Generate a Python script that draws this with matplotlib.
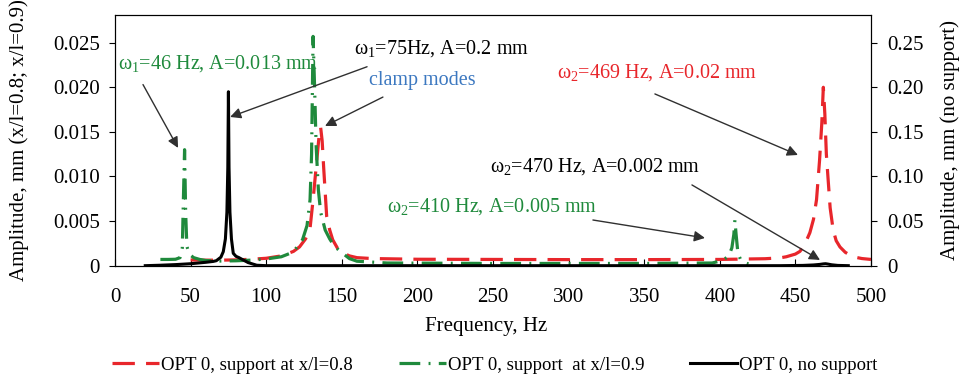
import matplotlib
matplotlib.use("Agg")
import matplotlib.pyplot as plt
from matplotlib.ticker import FuncFormatter, MultipleLocator

plt.rcParams["font.family"] = ["Liberation Serif", "DejaVu Serif"]
plt.rcParams["mathtext.fontset"] = "stix"

# Frequency response, support at x/l = 0.8 (left axis, mm)
freq_08 = [50, 60, 70, 80, 90, 100, 110, 118, 122, 126, 129, 131, 133, 135, 136,
           137, 138, 140, 142, 144, 147, 150, 155, 160, 170, 200, 250, 300, 350,
           400, 430, 440, 444, 450, 453, 456, 459.6, 462, 464, 466, 467.5, 468.5,
           469.5, 470.5, 471.7, 473, 475, 477, 479.5, 483, 488, 494, 500]
amp_08 = [0.00064, 0.00062, 0.00062, 0.00065, 0.00072, 0.00083, 0.0011, 0.0016,
          0.0021, 0.0030, 0.0042, 0.0074, 0.0110, 0.0146, 0.0155, 0.0140, 0.0110,
          0.0055, 0.0040, 0.0029, 0.0020, 0.0015, 0.0011, 0.0009, 0.0008, 0.00072,
          0.00070, 0.00068, 0.00068, 0.00070, 0.00078, 0.00088, 0.0010, 0.0013,
          0.0016, 0.0023, 0.0037, 0.0052, 0.0074, 0.0118, 0.0160, 0.0200, 0.0170,
          0.0125, 0.0096, 0.0065, 0.0040, 0.0028, 0.0021, 0.0015, 0.0010, 0.0008,
          0.0007]

# Frequency response, support at x/l = 0.9 (left axis, mm)
freq_09 = [30, 35, 40, 43, 44.5, 45.3, 46, 46.7, 47.5, 49, 52, 56, 60, 70, 80, 90,
           100, 110, 116, 120, 124, 127, 129, 130, 131, 132, 133, 134.5, 136, 139,
           142, 145, 149, 155, 160, 180, 250, 300, 350, 395, 402, 406, 408, 409.3,
           410, 410.8, 412, 414, 416, 419]
amp_09 = [0.0007, 0.0007, 0.00072, 0.0009, 0.0020, 0.0080, 0.0130, 0.0060, 0.0022,
          0.0013, 0.0009, 0.0007, 0.00058, 0.00052, 0.00055, 0.00062, 0.00075,
          0.0010, 0.0014, 0.0020, 0.0029, 0.0045, 0.0074, 0.0125, 0.0257, 0.0200,
          0.0135, 0.0085, 0.0060, 0.0040, 0.0030, 0.0022, 0.0016, 0.0008, 0.0005,
          0.0003, 0.00025, 0.00025, 0.00025, 0.0003, 0.0006, 0.0011, 0.0020, 0.0035,
          0.0051, 0.0035, 0.0014, 0.0006, 0.00035, 0.0002]

# Frequency response without support (right axis, mm)
freq_free = [20, 30, 40, 50, 55, 60, 65, 67, 70, 71.6, 73, 74, 74.6, 75, 75.4, 76,
             77, 78.2, 80, 82, 84.8, 88, 93.7, 100, 150, 250, 350, 440, 455, 462,
             466, 468.5, 470, 471.5, 474, 478, 485]
amp_free = [0.0, 0.0005, 0.0012, 0.0022, 0.003, 0.0038, 0.0048, 0.0056, 0.0095,
            0.0157, 0.03, 0.06, 0.11, 0.195, 0.11, 0.06, 0.03, 0.0139, 0.0105,
            0.009, 0.0064, 0.0035, 0.0005, 0.0, 0.0, 0.0, 0.0, 0.0, 0.0003, 0.0008,
            0.0014, 0.002, 0.0022, 0.0018, 0.001, 0.0003, 0.0]

labels = ["OPT 0, support at x/l=0.8", "OPT 0, support  at x/l=0.9",
          "OPT 0, no support"]
xticks = [0, 50, 100, 150, 200, 250, 300, 350, 400, 450, 500]

RED = "#e8262b"
GREEN = "#1f8a3c"
BLUE = "#3c78c0"

fig = plt.figure(figsize=(9.61, 3.76), dpi=100)
ax = fig.add_axes([0.1197, 0.2934, 0.7866, 0.6667])
ax2 = ax.twinx()

l1, = ax.plot(freq_08, amp_08, color=RED, lw=2.3, dashes=(7, 3.5), label=labels[0])
l2, = ax.plot(freq_09, amp_09, color=GREEN, lw=2.3, dashes=(6.5, 2.6, 0.6, 2.6),
              label=labels[1])
l3, = ax2.plot(freq_free, amp_free, color="black", lw=2.2, label=labels[2])

ax.set_xlim(0, 500)
ax.set_ylim(0, 0.0281)
ax2.set_ylim(0, 0.281)
ax.set_xticks(xticks)
ax.yaxis.set_major_locator(MultipleLocator(0.005))
ax2.yaxis.set_major_locator(MultipleLocator(0.05))
ax.yaxis.set_major_formatter(FuncFormatter(lambda v, p: "0" if abs(v) < 1e-12 else f"{v:.3f}"))
ax2.yaxis.set_major_formatter(FuncFormatter(lambda v, p: "0" if abs(v) < 1e-12 else f"{v:.2f}"))

ax.tick_params(axis="x", direction="in", length=5, pad=16, labelsize=15)
ax.tick_params(axis="y", direction="out", length=4, pad=7, labelsize=15)
ax2.tick_params(axis="y", direction="out", length=4, pad=8, labelsize=15)

ax.set_xlabel("Frequency, Hz", fontsize=15)
ax.xaxis.set_label_coords(0.4907, -0.205)
ax.set_ylabel("Amplitude, mm (x/l=0.8; x/l=0.9)", fontsize=15)
ax.yaxis.set_label_coords(-0.114, 0.5)
ax2.set_ylabel("Amplitude, mm (no support)", fontsize=15, rotation=90)
ax2.yaxis.set_label_coords(1.0915, 0.5)

arrow = dict(arrowstyle="-|>", color="#303030", lw=1.0, mutation_scale=16,
             shrinkA=0, shrinkB=0)
tfs = 14.5

ax.annotate("", xy=(41.7, 0.0132), xytext=(18.5, 0.0203), arrowprops=arrow)
ax.text(2.0, 0.0227, r"$\mathregular{\omega_1}$=46 Hz, A=0.013 mm", color=GREEN,
        fontsize=tfs, ha="left", va="center")

ax.annotate("", xy=(76.1, 0.01667), xytext=(166.7, 0.0223), arrowprops=arrow)
ax.text(158.1, 0.0243, r"$\mathregular{\omega_1}$=75Hz, A=0.2 mm", color="black",
        fontsize=tfs, ha="left", va="center")

ax.annotate("", xy=(138.9, 0.01566), xytext=(177.2, 0.0189), arrowprops=arrow)
ax.text(168, 0.0208, "clamp modes", color=BLUE, fontsize=tfs, ha="left", va="center")

ax.annotate("", xy=(451.7, 0.01241), xytext=(357.1, 0.01925), arrowprops=arrow)
ax.text(292.3, 0.0217, r"$\mathregular{\omega_2}$=469 Hz, A=0.02 mm", color=RED,
        fontsize=tfs, ha="left", va="center")

ax.annotate("", xy=(466.3, 0.00064), xytext=(381.6, 0.00905), arrowprops=arrow)
ax.text(248, 0.01106, r"$\mathregular{\omega_2}$=470 Hz, A=0.002 mm", color="black",
        fontsize=tfs, ha="left", va="center")

ax.annotate("", xy=(390.2, 0.00311), xytext=(316.1, 0.00512), arrowprops=arrow)
ax.text(179.9, 0.00658, r"$\mathregular{\omega_2}$=410 Hz, A=0.005 mm", color=GREEN,
        fontsize=tfs, ha="left", va="center")

fig.legend(handles=[l1, l2, l3], loc="center", bbox_to_anchor=(0.515, 0.028),
           ncol=3, frameon=False, fontsize=13.5, handlelength=2.5,
           handletextpad=0.12, columnspacing=2.45)

fig.savefig("out.png", dpi=100)
